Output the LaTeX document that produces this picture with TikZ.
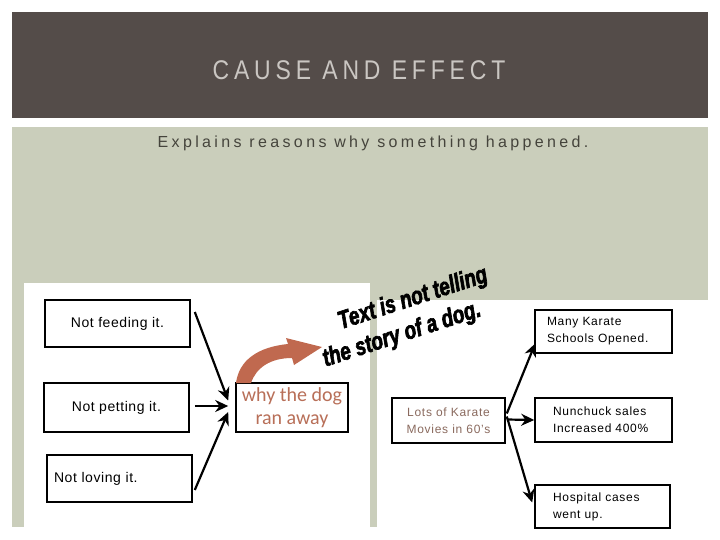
\documentclass[tikz,border=0pt]{standalone}
\usepackage{fontspec}
\setmainfont{Liberation Sans}
\newfontfamily\titlefont[FakeStretch=0.85,LetterSpace=18]{Liberation Sans}
\newfontfamily\subfont[LetterSpace=21]{Liberation Sans}
\newfontfamily\boxfont[LetterSpace=4]{Liberation Sans}
\newfontfamily\smallspaced[LetterSpace=6]{Liberation Sans}
\newfontfamily\impactish[FakeStretch=0.76,FakeBold=2.5]{Liberation Sans}
\newfontfamily\calib{Carlito}
\usetikzlibrary{arrows.meta,calc}
\definecolor{barcol}{HTML}{544C49}
\definecolor{titletxt}{HTML}{CAC6C2}
\definecolor{sage}{HTML}{CACEBB}
\definecolor{subtxt}{HTML}{45443C}
\definecolor{rust}{HTML}{C0694F}
\definecolor{whytxt}{HTML}{B86F58}
\definecolor{lotstxt}{HTML}{8A6A5E}
\tikzset{
  box/.style={draw=black, line width=1.6pt, rectangle, inner sep=0pt, font=\boxfont\fontsize{14}{16}\selectfont},
  rbox/.style={draw=black, line width=1.6pt, rectangle, inner ysep=0pt, align=left, font=\smallspaced\fontsize{12}{17}\selectfont},
  arr/.style={line width=2.2pt, -{Stealth[length=13pt,width=12pt]}},
  slog/.style={rotate=18, inner sep=0pt, font=\impactish\bfseries\itshape\fontsize{25}{30}\selectfont},
}
\begin{document}
\begin{tikzpicture}[x=1pt,y=-1pt]
\useasboundingbox (0,0) rectangle (720,540);
% title bar
\fill[barcol] (12,12) rectangle (708,118);
\node[text=titletxt, font=\titlefont\fontsize{27}{30}\selectfont] (title) at (359,70) {CAUSE AND EFFECT};
% sage area
\fill[sage] (12,127) rectangle (708,527);
\node[text=subtxt, font=\subfont\fontsize{16}{18}\selectfont] (sub) at (373,143) {Explains reasons why something happened.};
% image backgrounds
\fill[white] (24,283) rectangle (370,527);
\fill[white] (377,300) rectangle (708,527);
% left diagram
\node[box, minimum width=145, minimum height=47] (nf) at (117.5,323.5) {Not feeding it.};
\node[box, minimum width=145, minimum height=49] (np) at (116.5,407.5) {Not petting it.};
\node[box, minimum width=145, minimum height=47, text width=131, inner xsep=7, align=left] (nl) at (119.5,478.5) {Not loving it.};
\node[box, minimum width=112, minimum height=49, align=center, text=whytxt, font=\calib\fontsize{20}{23}\selectfont] (why) at (292,407.5) {why the dog\\ran away};
\draw[arr] ($(nf.east)+(4,-11.5)$) -- ($(why.west)+(-7,-7)$);
\draw[arr] ($(np.east)+(5,-1.5)$) -- ($(why.west)+(-7,-1.5)$);
\draw[arr] ($(nl.east)+(2,11.5)$) -- ($(why.west)+(-7,4.5)$);
% curved block arrow
\fill[rust] (236,383) .. controls (239,360) and (258,347) .. (288,344)
  -- (286,338) -- (322,347) -- (294,365) -- (292,358)
  .. controls (270,358) and (256,368) .. (251,383) -- cycle;
% slanted text
\node[slog] (slogan1) at (413,299) {Text is not telling};
\node[slog] (slogan2) at (402,335) {the story of a dog.};
% right diagram
\node[rbox, minimum width=113, minimum height=45, align=center, text=lotstxt, inner xsep=0] (lots) at (448.5,420.5) {Lots of Karate\\Movies in 60’s};
\node[rbox, minimum width=137, minimum height=43, text width=113, inner xsep=12] (many) at (603.5,331.5) {Many Karate\\Schools Opened.};
\node[rbox, minimum width=137, minimum height=44, text width=101, inner xsep=18] (nun) at (603.5,420) {Nunchuck sales\\Increased 400\%};
\node[rbox, minimum width=135, minimum height=43, text width=99, inner xsep=18] (hosp) at (602.5,506.5) {Hospital cases\\went up.};
\draw[arr] ($(lots.east)+(1,-7)$) -- ($(many.west)+(1,12)$);
\draw[arr] ($(lots.east)+(1,-1)$) -- (nun.west);
\draw[arr] ($(lots.east)+(1,-4)$) -- ($(hosp.west)+(-2,-4)$);
\end{tikzpicture}
\end{document}
